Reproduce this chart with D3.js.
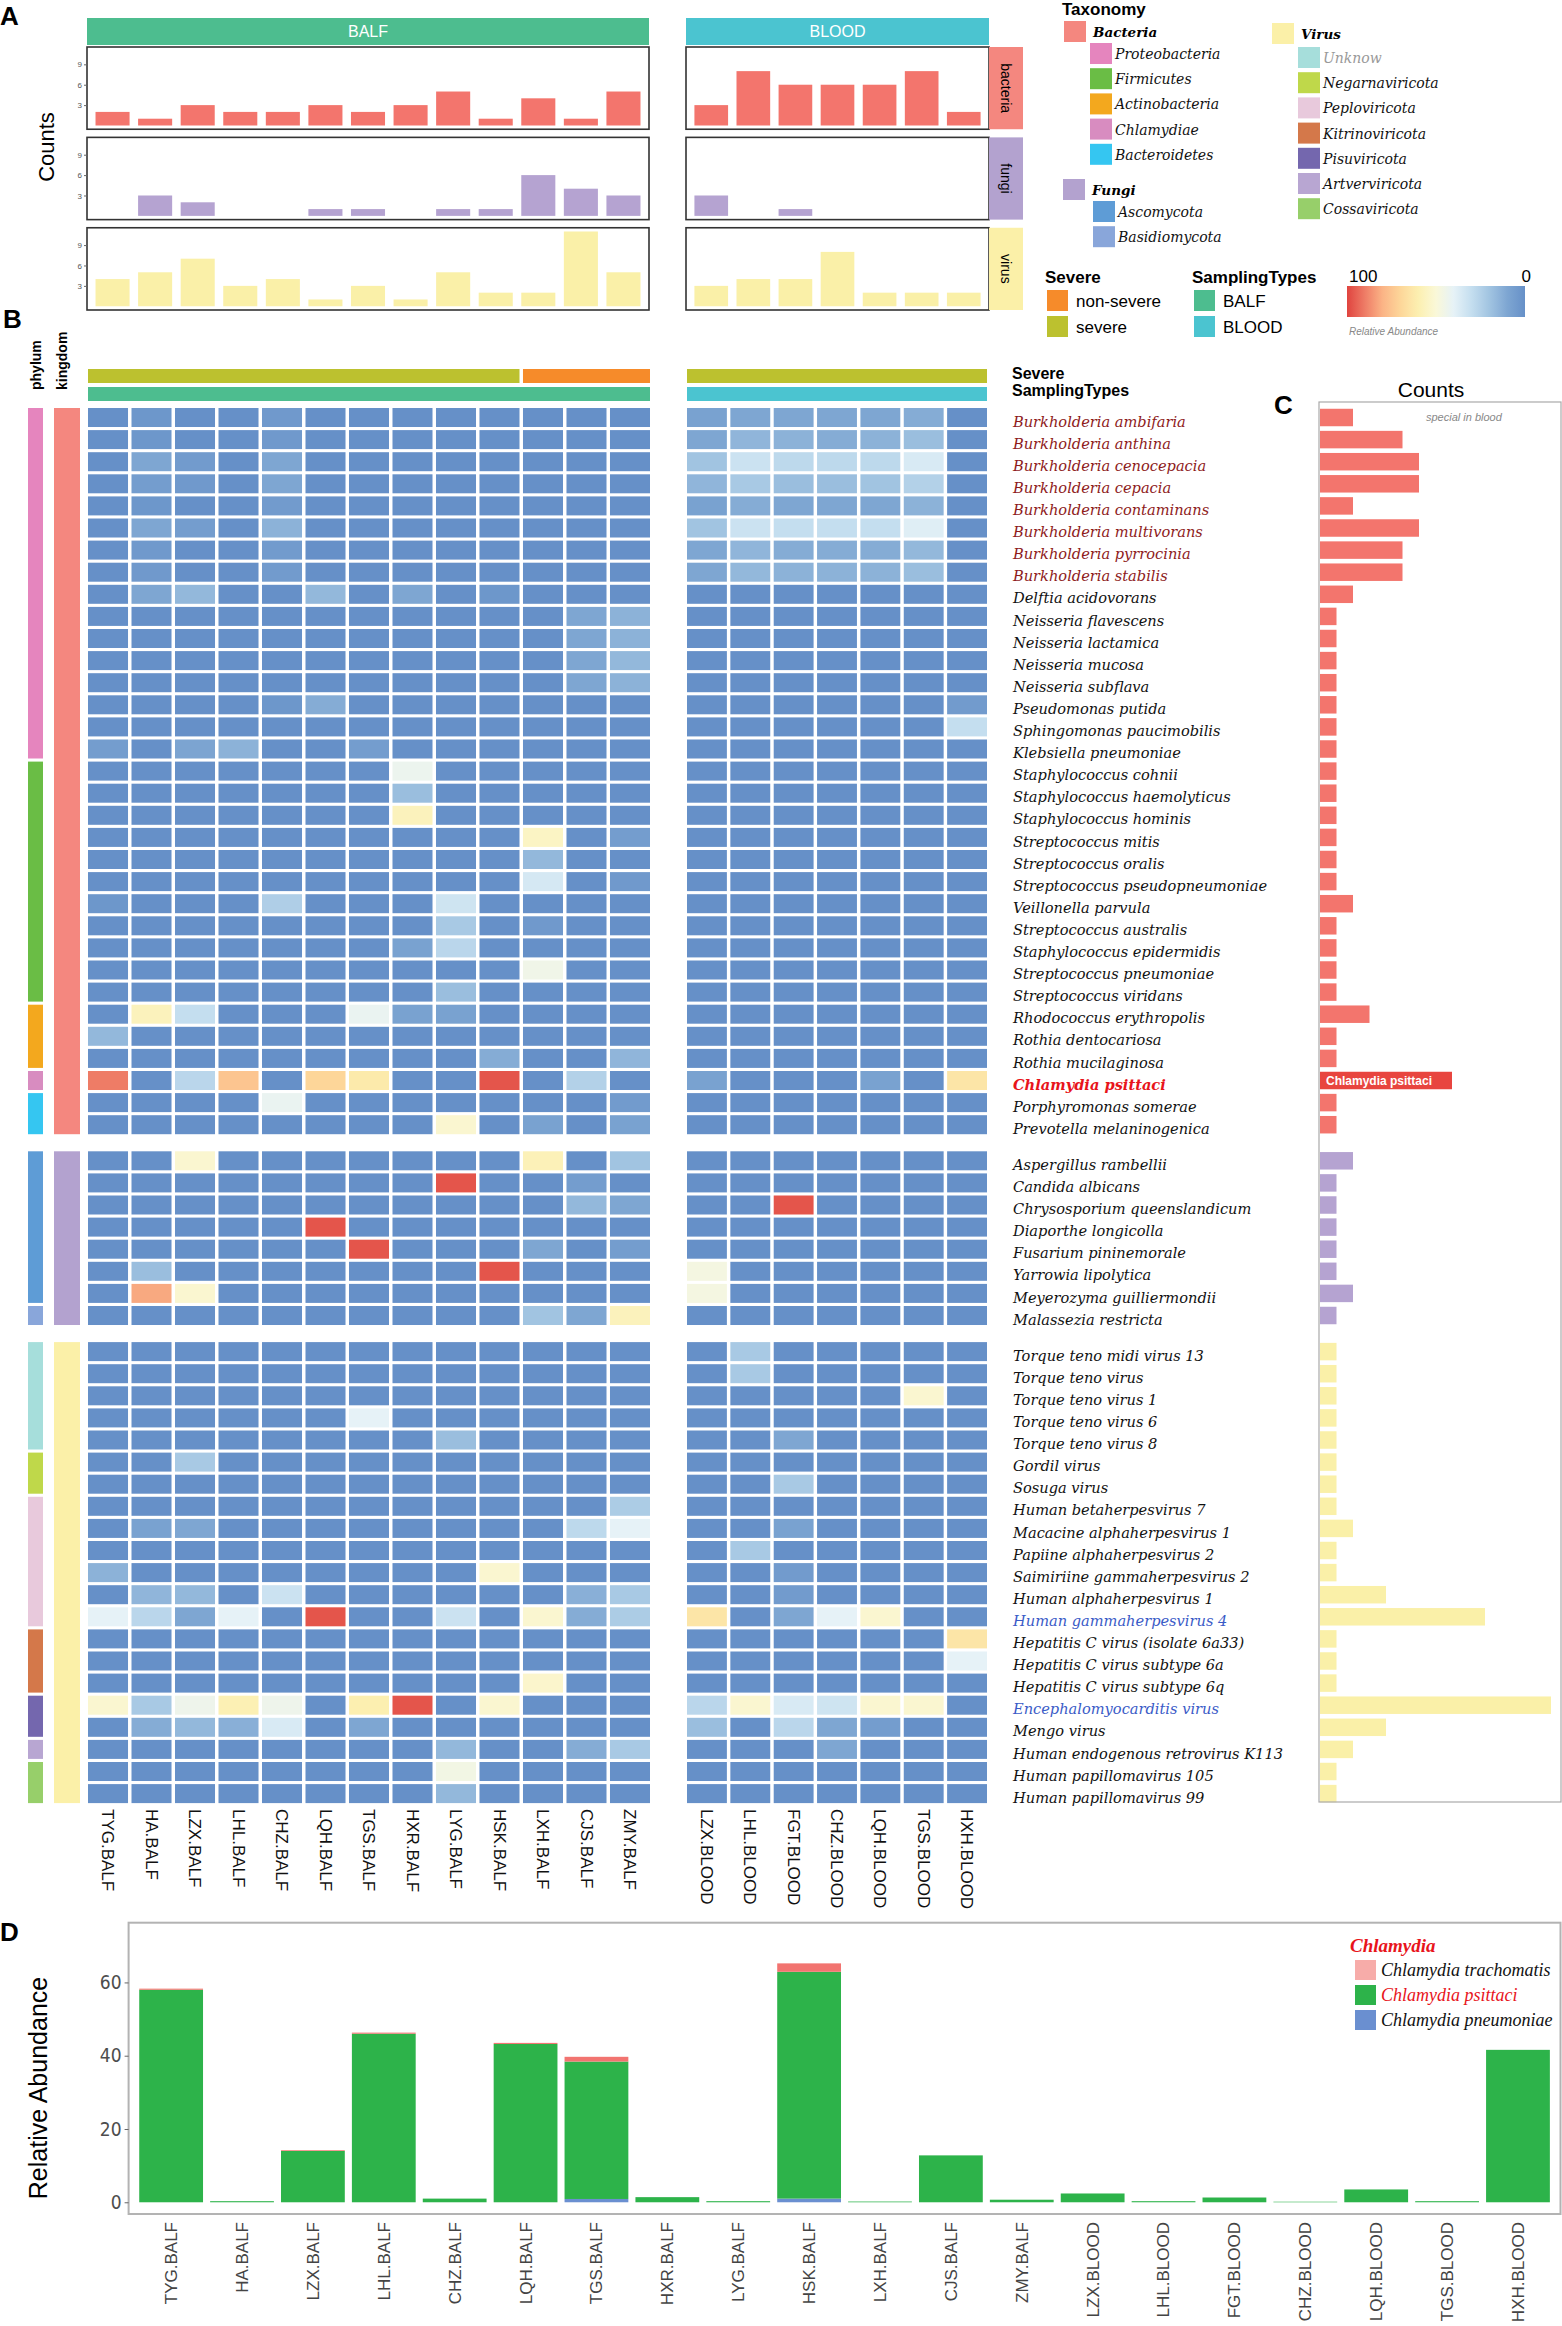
<!DOCTYPE html>
<html>
<head>
<meta charset="utf-8">
<script src="https://cdn.jsdelivr.net/npm/d3@7"></script>
<style>
  body { margin: 0; background: #fff; }
  svg text { font-family: "Liberation Sans", Arial, sans-serif; }
</style>
</head>
<body>
<div id="fig"></div>
<script>
// ---- samples ----
var balfSamples = ["TYG.BALF", "HA.BALF", "LZX.BALF", "LHL.BALF", "CHZ.BALF", "LQH.BALF", "TGS.BALF",
    "HXR.BALF", "LYG.BALF", "HSK.BALF", "LXH.BALF", "CJS.BALF", "ZMY.BALF"];
var bloodSamples = ["LZX.BLOOD", "LHL.BLOOD", "FGT.BLOOD", "CHZ.BLOOD", "LQH.BLOOD", "TGS.BLOOD", "HXH.BLOOD"];
var balfSevere = ["severe", "severe", "severe", "severe", "severe", "severe", "severe", "severe", "severe", "severe",
    "non-severe", "non-severe", "non-severe"];
var bloodSevere = ["severe", "severe", "severe", "severe", "severe", "severe", "severe"];

// ---- panel A: counts per sample ----
var kingdoms = ["bacteria", "fungi", "virus"];
var bacteriaCountsBALF = [2, 1, 3, 2, 2, 3, 2, 3, 5, 1, 4, 1, 5];
var bacteriaCountsBLOOD = [3, 8, 6, 6, 6, 8, 2];
var fungiCountsBALF = [0, 3, 2, 0, 0, 1, 1, 0, 1, 1, 6, 4, 3];
var fungiCountsBLOOD = [3, 0, 1, 0, 0, 0, 0];
var virusCountsBALF = [4, 5, 7, 3, 4, 1, 3, 1, 5, 2, 2, 11, 5];
var virusCountsBLOOD = [3, 4, 4, 8, 2, 2, 2];
var countTicks = [3, 6, 9];

// ---- panel B/C: species ----
var bacteriaSpecies = ["Burkholderia ambifaria", "Burkholderia anthina", "Burkholderia cenocepacia", "Burkholderia cepacia",
    "Burkholderia contaminans", "Burkholderia multivorans", "Burkholderia pyrrocinia", "Burkholderia stabilis",
    "Delftia acidovorans", "Neisseria flavescens", "Neisseria lactamica", "Neisseria mucosa", "Neisseria subflava",
    "Pseudomonas putida", "Sphingomonas paucimobilis", "Klebsiella pneumoniae", "Staphylococcus cohnii",
    "Staphylococcus haemolyticus", "Staphylococcus hominis", "Streptococcus mitis", "Streptococcus oralis",
    "Streptococcus pseudopneumoniae", "Veillonella parvula", "Streptococcus australis", "Staphylococcus epidermidis",
    "Streptococcus pneumoniae", "Streptococcus viridans", "Rhodococcus erythropolis", "Rothia dentocariosa",
    "Rothia mucilaginosa", "Chlamydia psittaci", "Porphyromonas somerae", "Prevotella melaninogenica"];
var bacteriaPhylum = ["Proteobacteria", "Proteobacteria", "Proteobacteria", "Proteobacteria", "Proteobacteria",
    "Proteobacteria", "Proteobacteria", "Proteobacteria", "Proteobacteria", "Proteobacteria", "Proteobacteria",
    "Proteobacteria", "Proteobacteria", "Proteobacteria", "Proteobacteria", "Proteobacteria",
    "Firmicutes", "Firmicutes", "Firmicutes", "Firmicutes", "Firmicutes", "Firmicutes", "Firmicutes", "Firmicutes",
    "Firmicutes", "Firmicutes", "Firmicutes", "Actinobacteria", "Actinobacteria", "Actinobacteria",
    "Chlamydiae", "Bacteroidetes", "Bacteroidetes"];
var bacteriaSpeciesCounts = [2, 5, 6, 6, 2, 6, 5, 5, 2, 1, 1, 1, 1, 1, 1, 1, 1, 1, 1, 1, 1, 1, 2, 1, 1, 1, 1, 3, 1, 1, 8, 1, 1];

var fungiSpecies = ["Aspergillus rambellii", "Candida albicans", "Chrysosporium queenslandicum", "Diaporthe longicolla",
    "Fusarium pininemorale", "Yarrowia lipolytica", "Meyerozyma guilliermondii", "Malassezia restricta"];
var fungiPhylum = ["Ascomycota", "Ascomycota", "Ascomycota", "Ascomycota", "Ascomycota", "Ascomycota", "Ascomycota",
    "Basidiomycota"];
var fungiSpeciesCounts = [2, 1, 1, 1, 1, 1, 2, 1];

var virusSpecies = ["Torque teno midi virus 13", "Torque teno virus", "Torque teno virus 1", "Torque teno virus 6",
    "Torque teno virus 8", "Gordil virus", "Sosuga virus", "Human betaherpesvirus 7", "Macacine alphaherpesvirus 1",
    "Papiine alphaherpesvirus 2", "Saimiriine gammaherpesvirus 2", "Human alphaherpesvirus 1",
    "Human gammaherpesvirus 4", "Hepatitis C virus (isolate 6a33)", "Hepatitis C virus subtype 6a",
    "Hepatitis C virus subtype 6q", "Encephalomyocarditis virus", "Mengo virus", "Human endogenous retrovirus K113",
    "Human papillomavirus 105", "Human papillomavirus 99"];
var virusPhylum = ["Unknow", "Unknow", "Unknow", "Unknow", "Unknow", "Negarnaviricota", "Negarnaviricota",
    "Peploviricota", "Peploviricota", "Peploviricota", "Peploviricota", "Peploviricota", "Peploviricota",
    "Kitrinoviricota", "Kitrinoviricota", "Kitrinoviricota", "Pisuviricota", "Pisuviricota", "Artverviricota",
    "Cossaviricota", "Cossaviricota"];
var virusSpeciesCounts = [1, 1, 1, 1, 1, 1, 1, 1, 2, 1, 1, 4, 10, 1, 1, 1, 14, 4, 2, 1, 1];

// relative abundance (0-100), 13 BALF columns then 7 BLOOD columns
var bacteriaAbund = [
    [0, 3, 0, 0, 4, 0, 0, 0, 0, 0, 0, 0, 0, 8, 10, 10, 10, 10, 12, 0],
    [0, 3, 0, 0, 4, 0, 0, 0, 0, 0, 0, 0, 0, 10, 15, 14, 12, 14, 18, 0],
    [0, 10, 5, 0, 10, 0, 0, 0, 0, 0, 0, 0, 0, 20, 32, 28, 28, 28, 36, 0],
    [0, 6, 4, 0, 10, 0, 0, 0, 0, 0, 0, 0, 0, 15, 22, 18, 18, 20, 25, 0],
    [0, 3, 0, 0, 5, 0, 0, 0, 0, 0, 0, 0, 0, 8, 12, 10, 10, 10, 14, 0],
    [0, 10, 6, 0, 14, 0, 0, 0, 0, 0, 0, 0, 0, 20, 32, 30, 30, 30, 38, 0],
    [0, 4, 0, 0, 5, 0, 0, 0, 0, 0, 0, 0, 0, 10, 15, 12, 12, 12, 16, 0],
    [0, 4, 0, 0, 5, 0, 0, 0, 0, 0, 0, 0, 0, 10, 16, 14, 14, 14, 18, 0],
    [0, 10, 16, 0, 0, 16, 0, 10, 0, 3, 0, 0, 0, 0, 0, 0, 0, 0, 0, 0],
    [0, 0, 0, 0, 0, 0, 0, 0, 0, 0, 0, 10, 14, 0, 0, 0, 0, 0, 0, 0],
    [0, 0, 0, 0, 0, 0, 0, 0, 0, 0, 0, 10, 14, 0, 0, 0, 0, 0, 0, 0],
    [0, 0, 0, 0, 0, 0, 0, 0, 0, 0, 0, 10, 16, 0, 0, 0, 0, 0, 0, 0],
    [0, 0, 0, 0, 0, 0, 0, 0, 0, 0, 0, 10, 14, 0, 0, 0, 0, 0, 0, 0],
    [0, 0, 0, 0, 3, 12, 0, 0, 0, 0, 0, 0, 0, 0, 0, 0, 0, 0, 0, 5],
    [0, 0, 0, 0, 0, 0, 0, 0, 0, 0, 0, 0, 0, 0, 0, 0, 0, 0, 0, 30],
    [6, 0, 9, 14, 0, 0, 6, 0, 0, 0, 0, 0, 0, 0, 0, 0, 0, 0, 0, 0],
    [0, 0, 0, 0, 0, 0, 0, 43, 0, 0, 0, 0, 0, 0, 0, 0, 0, 0, 0, 0],
    [0, 0, 0, 0, 0, 0, 0, 18, 0, 0, 0, 0, 0, 0, 0, 0, 0, 0, 0, 0],
    [0, 0, 0, 0, 0, 0, 0, 57, 0, 0, 0, 0, 0, 0, 0, 0, 0, 0, 0, 0],
    [0, 0, 0, 0, 0, 0, 0, 0, 0, 0, 55, 0, 6, 0, 0, 0, 0, 0, 0, 0],
    [0, 0, 0, 0, 0, 0, 0, 0, 0, 0, 16, 0, 0, 0, 0, 0, 0, 0, 0, 0],
    [0, 0, 0, 0, 0, 0, 0, 0, 0, 0, 35, 0, 4, 0, 0, 0, 0, 0, 0, 0],
    [3, 0, 0, 0, 24, 0, 0, 0, 33, 0, 0, 0, 0, 0, 0, 0, 0, 0, 0, 0],
    [0, 0, 0, 0, 0, 0, 0, 0, 22, 0, 4, 0, 0, 0, 0, 0, 0, 0, 0, 0],
    [0, 0, 0, 0, 0, 0, 0, 8, 27, 0, 0, 0, 0, 0, 0, 0, 0, 0, 0, 0],
    [0, 0, 0, 0, 0, 0, 0, 0, 0, 0, 45, 0, 0, 0, 0, 0, 0, 0, 0, 0],
    [0, 0, 0, 0, 0, 0, 0, 0, 18, 0, 0, 0, 0, 0, 0, 0, 0, 0, 0, 0],
    [0, 57, 30, 0, 0, 0, 42, 8, 8, 0, 0, 0, 0, 0, 0, 0, 0, 0, 0, 0],
    [16, 0, 0, 0, 0, 0, 0, 0, 0, 0, 0, 0, 0, 0, 0, 0, 0, 0, 0, 0],
    [0, 0, 0, 0, 0, 0, 0, 0, 0, 12, 0, 0, 15, 0, 0, 0, 0, 0, 0, 0],
    [90, 0, 27, 75, 0, 70, 62, 0, 0, 97, 0, 25, 0, 8, 0, 0, 0, 8, 0, 64],
    [0, 0, 0, 0, 42, 0, 0, 0, 0, 0, 0, 0, 5, 0, 0, 0, 0, 0, 0, 0],
    [0, 0, 0, 0, 0, 0, 0, 0, 52, 0, 8, 0, 8, 0, 0, 0, 0, 0, 0, 0]
];
var fungiAbund = [
    [0, 0, 52, 0, 0, 0, 0, 0, 0, 0, 58, 0, 20, 0, 0, 0, 0, 0, 0, 0],
    [0, 0, 0, 0, 0, 0, 0, 0, 97, 0, 0, 6, 0, 0, 0, 0, 0, 0, 0, 0],
    [0, 0, 0, 0, 0, 0, 0, 0, 0, 0, 0, 16, 10, 0, 0, 97, 0, 0, 0, 0],
    [0, 0, 0, 0, 0, 97, 0, 0, 0, 0, 0, 0, 0, 0, 0, 0, 0, 0, 0, 0],
    [0, 0, 0, 0, 0, 0, 97, 0, 0, 0, 10, 0, 6, 0, 0, 0, 0, 0, 0, 0],
    [0, 18, 0, 0, 0, 0, 0, 0, 0, 97, 0, 0, 0, 47, 0, 0, 0, 0, 0, 0],
    [0, 82, 52, 0, 0, 0, 0, 0, 0, 0, 0, 0, 0, 47, 0, 0, 0, 0, 0, 0],
    [0, 0, 0, 0, 0, 0, 0, 0, 0, 0, 20, 10, 57, 0, 0, 0, 0, 0, 0, 0]
];
var virusAbund = [
    [0, 0, 0, 0, 0, 0, 0, 0, 0, 0, 0, 0, 0, 0, 22, 0, 0, 0, 0, 0],
    [0, 0, 0, 0, 0, 0, 0, 0, 0, 0, 0, 0, 0, 0, 22, 0, 0, 0, 0, 0],
    [0, 0, 0, 0, 0, 0, 0, 0, 0, 0, 0, 0, 0, 0, 0, 0, 0, 0, 52, 0],
    [0, 0, 0, 0, 0, 0, 40, 0, 0, 0, 0, 0, 0, 0, 0, 0, 0, 0, 0, 0],
    [0, 0, 0, 0, 0, 0, 0, 0, 18, 0, 0, 0, 0, 0, 0, 10, 0, 0, 0, 0],
    [0, 0, 22, 0, 0, 0, 0, 0, 0, 0, 0, 0, 0, 0, 0, 0, 0, 0, 0, 0],
    [0, 0, 0, 0, 0, 0, 0, 0, 0, 0, 0, 0, 0, 0, 0, 22, 0, 0, 0, 0],
    [0, 0, 0, 0, 0, 0, 0, 0, 0, 0, 0, 0, 23, 0, 0, 0, 0, 0, 0, 0],
    [0, 8, 10, 0, 0, 0, 0, 0, 0, 0, 0, 28, 40, 0, 0, 8, 0, 0, 0, 0],
    [0, 0, 0, 0, 0, 0, 0, 0, 0, 0, 0, 0, 0, 0, 22, 0, 0, 0, 0, 0],
    [14, 0, 0, 0, 0, 0, 0, 0, 0, 52, 0, 0, 0, 0, 0, 5, 0, 0, 0, 0],
    [0, 15, 16, 0, 32, 0, 0, 0, 0, 0, 0, 13, 22, 0, 0, 5, 0, 0, 0, 0],
    [40, 27, 10, 40, 0, 97, 0, 0, 32, 0, 52, 12, 23, 64, 0, 10, 40, 52, 0, 0],
    [0, 0, 0, 0, 0, 0, 0, 0, 0, 0, 0, 0, 0, 0, 0, 0, 0, 0, 0, 64],
    [0, 0, 0, 0, 0, 0, 0, 0, 0, 0, 0, 0, 0, 0, 0, 0, 0, 0, 0, 40],
    [0, 0, 0, 0, 0, 0, 0, 0, 0, 0, 53, 0, 0, 0, 0, 0, 0, 0, 0, 0],
    [52, 22, 44, 59, 44, 0, 60, 97, 0, 52, 0, 0, 0, 27, 52, 36, 33, 52, 52, 0],
    [0, 12, 16, 13, 36, 0, 10, 0, 0, 0, 0, 0, 0, 18, 0, 27, 10, 6, 0, 0],
    [0, 0, 0, 0, 0, 0, 0, 0, 16, 0, 0, 12, 22, 0, 0, 0, 10, 0, 0, 0],
    [0, 0, 0, 0, 0, 0, 0, 0, 46, 0, 0, 0, 0, 0, 0, 0, 0, 0, 0, 0],
    [0, 0, 0, 0, 0, 0, 0, 0, 16, 0, 0, 0, 0, 0, 0, 0, 0, 0, 0, 0]
];
var redLabels = ["Chlamydia psittaci"];
var blueLabels = ["Human gammaherpesvirus 4", "Encephalomyocarditis virus"];

// ---- panel D ----
var dSamples = balfSamples.concat(bloodSamples);
var trachomatisAbund = [0.3, 0, 0.2, 0.3, 0, 0.3, 1.3, 0, 0, 2.3, 0, 0, 0, 0, 0, 0, 0, 0, 0, 0];
var psittaciAbund = [58, 0.3, 14, 46, 1.0, 43.2, 37.5, 1.4, 0.3, 61.9, 0.2, 12.8, 0.7, 2.4, 0.3, 1.3, 0.15, 3.5, 0.3, 41.6];
var pneumoniaeAbund = [0, 0, 0, 0, 0, 0, 0.9, 0, 0, 1.0, 0, 0, 0, 0, 0, 0, 0, 0, 0, 0];
var abundTicks = [0, 20, 40, 60];

// ---- colours ----
var kingdomColor = {bacteria: "#F4877F", fungi: "#B3A2CF", virus: "#FBF0A8"};
var kingdomBarColor = {bacteria: "#F3756D", fungi: "#B5A3D1", virus: "#FAF0A8"};
var phylumColor = {
    Proteobacteria: "#E585BE", Firmicutes: "#6ABD45", Actinobacteria: "#F3A81E", Chlamydiae: "#D88CC0",
    Bacteroidetes: "#35C6F1", Ascomycota: "#5E9CD6", Basidiomycota: "#89A6DA",
    Unknow: "#A6DEDB", Negarnaviricota: "#BFD84A", Peploviricota: "#E8C9DC", Kitrinoviricota: "#D4784A",
    Pisuviricota: "#7467AE", Artverviricota: "#B8A6D2", Cossaviricota: "#97CF6A"
};
var severeColor = {"non-severe": "#F68B2A", "severe": "#BCC12F"};
var samplingColor = {BALF: "#4DBD8F", BLOOD: "#4BC4D0"};
var chlamydiaColor = {trachomatis: "#F27470", psittaci: "#2DB34A", pneumoniae: "#6A8FD0"};

var heatColor = d3.scaleLinear()
    .domain([0, 10, 20, 30, 40, 50, 60, 70, 80, 90, 100])
    .range(["#6690C8", "#7EA6D2", "#A1C4E1", "#C4DEEF", "#E6F2F7", "#FAF8D8", "#FCEFB0", "#FDD699", "#FBB486", "#EE7C66", "#E0443F"]);

var SERIF = "'DejaVu Serif', serif",
    NARROW = "'Liberation Sans Narrow', 'DejaVu Sans Condensed', sans-serif",
    TIMES = "'Liberation Serif', serif";

var svg = d3.select("#fig").append("svg")
    .attr("width", 1562)
    .attr("height", 2326);

function panelLabel(t, x, y) {
    svg.append("text").attr("x", x).attr("y", y)
        .style("font-size", "26px").style("font-weight", "bold")
        .text(t);
}

/* ================= panel A ================= */
panelLabel("A", 0, 25);

var facetY = d3.scaleBand().domain(kingdoms).range([47, 310]).paddingInner(0.09);
var xBalfA = d3.scaleBand().domain(balfSamples).range([87, 649]).paddingInner(0.2).paddingOuter(0.2);
var xBloodA = d3.scaleBand().domain(bloodSamples).range([686, 989]).paddingInner(0.2).paddingOuter(0.2);
var countsA = {
    bacteria: [bacteriaCountsBALF, bacteriaCountsBLOOD],
    fungi: [fungiCountsBALF, fungiCountsBLOOD],
    virus: [virusCountsBALF, virusCountsBLOOD]
};

[["BALF", xBalfA], ["BLOOD", xBloodA]].forEach(function (s) {
    var r = s[1].range();
    svg.append("rect").attr("x", r[0]).attr("y", 18).attr("width", r[1] - r[0]).attr("height", 27)
        .attr("fill", samplingColor[s[0]]);
    svg.append("text").attr("x", (r[0] + r[1]) / 2).attr("y", 37)
        .attr("text-anchor", "middle").style("font-size", "16px").style("fill", "#fff")
        .text(s[0]);
});

kingdoms.forEach(function (k) {
    var top = facetY(k), bot = top + facetY.bandwidth();
    var y = d3.scaleLinear().domain([-0.55, 11.55]).range([bot, top]);

    [[xBalfA, balfSamples, countsA[k][0], true], [xBloodA, bloodSamples, countsA[k][1], false]].forEach(function (p) {
        var g = svg.append("g");
        g.selectAll("rect.bar").data(p[2]).enter().append("rect")
            .attr("class", "bar")
            .attr("x", function (d, i) { return p[0](p[1][i]); })
            .attr("width", p[0].bandwidth())
            .attr("y", function (d) { return y(d); })
            .attr("height", function (d) { return y(0) - y(d); })
            .attr("fill", kingdomBarColor[k]);
        var r = p[0].range();
        g.append("rect").attr("x", r[0]).attr("y", top).attr("width", r[1] - r[0]).attr("height", bot - top)
            .attr("fill", "none").attr("stroke", "#333").attr("stroke-width", 1.6);
        if (p[3]) {
            var ax = svg.append("g").attr("transform", "translate(" + r[0] + ",0)")
                .call(d3.axisLeft(y).tickValues(countTicks).tickSize(3).tickPadding(2));
            ax.select(".domain").remove();
            ax.selectAll("line").attr("stroke", "#666");
            ax.selectAll("text").style("font-size", "8px").style("fill", "#555")
                .style("font-family", "'Liberation Sans', Arial, sans-serif");
        }
    });

    // facet strip
    svg.append("rect").attr("x", 989).attr("y", top).attr("width", 34).attr("height", bot - top)
        .attr("fill", kingdomColor[k]);
    svg.append("text").attr("transform", "translate(1006," + ((top + bot) / 2) + ") rotate(90)")
        .attr("text-anchor", "middle").attr("dy", "0.35em").style("font-size", "14px")
        .text(k);
});

svg.append("text").attr("transform", "translate(46,147) rotate(-90)")
    .attr("text-anchor", "middle").attr("dy", "0.35em").style("font-size", "22px")
    .text("Counts");

/* ================= legends (top right) ================= */
var leg = svg.append("g");
leg.append("text").attr("x", 1062).attr("y", 15).style("font-size", "17px").style("font-weight", "bold").text("Taxonomy");

function legendKingdom(name, x, y) {
    leg.append("rect").attr("x", x).attr("y", y).attr("width", 22).attr("height", 21).attr("fill", kingdomColor[name.toLowerCase()]);
    leg.append("text").attr("x", x + 29).attr("y", y + 16)
        .style("font-family", SERIF).style("font-style", "italic").style("font-weight", "bold").style("font-size", "13.5px")
        .text(name);
}
function legendPhyla(list, x, y0) {
    list.forEach(function (p, i) {
        var y = y0 + i * 25.2;
        leg.append("rect").attr("x", x).attr("y", y).attr("width", 22).attr("height", 21).attr("fill", phylumColor[p]);
        leg.append("text").attr("x", x + 25).attr("y", y + 16)
            .style("font-family", SERIF).style("font-style", "italic").style("font-size", "14px")
            .style("fill", p === "Unknow" ? "#999" : "#111")
            .text(p);
    });
}
function uniq(a) { return a.filter(function (d, i) { return a.indexOf(d) === i; }); }

legendKingdom("Bacteria", 1064, 21);
legendPhyla(uniq(bacteriaPhylum), 1090, 43);
legendKingdom("Fungi", 1063, 179);
legendPhyla(uniq(fungiPhylum), 1093, 201);
legendKingdom("Virus", 1272, 23);
legendPhyla(uniq(virusPhylum), 1298, 47);

function legendDiscrete(title, keys, colors, x, y) {
    leg.append("text").attr("x", x).attr("y", y).style("font-size", "17px").style("font-weight", "bold").text(title);
    keys.forEach(function (k, i) {
        leg.append("rect").attr("x", x + 2).attr("y", y + 7 + i * 26).attr("width", 21).attr("height", 21).attr("fill", colors[k]);
        leg.append("text").attr("x", x + 31).attr("y", y + 24 + i * 26).style("font-size", "17px").text(k);
    });
}
legendDiscrete("Severe", ["non-severe", "severe"], severeColor, 1045, 283);
legendDiscrete("SamplingTypes", ["BALF", "BLOOD"], samplingColor, 1192, 283);

var grad = svg.append("defs").append("linearGradient").attr("id", "heatGrad");
d3.range(0, 101, 5).forEach(function (t) {
    grad.append("stop").attr("offset", t + "%").attr("stop-color", heatColor(100 - t));
});
leg.append("rect").attr("x", 1347).attr("y", 286).attr("width", 178).attr("height", 31).attr("fill", "url(#heatGrad)");
leg.append("text").attr("x", 1349).attr("y", 282).style("font-size", "17px").text("100");
leg.append("text").attr("x", 1531).attr("y", 282).attr("text-anchor", "end").style("font-size", "17px").text("0");
leg.append("text").attr("x", 1349).attr("y", 335).style("font-size", "10px").style("font-style", "italic")
    .style("fill", "#888").text("Relative Abundance");

/* ================= panel B: heatmap ================= */
panelLabel("B", 3, 328);

var groups = [
    {name: "bacteria", species: bacteriaSpecies, phylum: bacteriaPhylum, abund: bacteriaAbund, counts: bacteriaSpeciesCounts},
    {name: "fungi", species: fungiSpecies, phylum: fungiPhylum, abund: fungiAbund, counts: fungiSpeciesCounts},
    {name: "virus", species: virusSpecies, phylum: virusPhylum, abund: virusAbund, counts: virusSpeciesCounts}
];
var rowStep = 22.1, rowGap = 14, yStart = 408;
groups.forEach(function (g) {
    g.y = d3.scaleBand().domain(g.species)
        .range([yStart, yStart + rowStep * (g.species.length - 0.14)]).paddingInner(0.14);
    yStart += rowStep * g.species.length + rowGap;
});

var xBalfH = d3.scaleBand().domain(balfSamples).range([88, 650]).paddingInner(0.08);
var xBloodH = d3.scaleBand().domain(bloodSamples).range([687, 987]).paddingInner(0.08);
function colX(i) { return i < 13 ? xBalfH(balfSamples[i]) : xBloodH(bloodSamples[i - 13]); }

// column annotations
function runs(arr) {
    var out = [];
    arr.forEach(function (v, i) {
        if (out.length && out[out.length - 1].v === v) out[out.length - 1].end = i;
        else out.push({v: v, start: i, end: i});
    });
    return out;
}
[[xBalfH, balfSamples, balfSevere, "BALF"], [xBloodH, bloodSamples, bloodSevere, "BLOOD"]].forEach(function (p) {
    var sc = p[0], bw = sc.bandwidth();
    runs(p[2]).forEach(function (r) {
        svg.append("rect").attr("x", sc(p[1][r.start])).attr("y", 369)
            .attr("width", sc(p[1][r.end]) + bw - sc(p[1][r.start])).attr("height", 14)
            .attr("fill", severeColor[r.v]);
    });
    svg.append("rect").attr("x", sc(p[1][0])).attr("y", 387)
        .attr("width", sc(p[1][p[1].length - 1]) + bw - sc(p[1][0])).attr("height", 14)
        .attr("fill", samplingColor[p[3]]);
});
svg.append("text").attr("x", 1012).attr("y", 379).style("font-size", "16px").style("font-weight", "bold").text("Severe");
svg.append("text").attr("x", 1012).attr("y", 396).style("font-size", "16px").style("font-weight", "bold").text("SamplingTypes");

svg.append("text").attr("transform", "translate(36,390) rotate(-90)").attr("dy", "0.35em")
    .style("font-size", "14px").style("font-weight", "bold").text("phylum");
svg.append("text").attr("transform", "translate(62,390) rotate(-90)").attr("dy", "0.35em")
    .style("font-size", "14px").style("font-weight", "bold").text("kingdom");

var xC = d3.scaleLinear().domain([0, 14]).range([1320, 1551]);

groups.forEach(function (g) {
    var bw = g.y.bandwidth();
    var gg = svg.append("g").attr("class", "heat " + g.name);

    // cells
    g.abund.forEach(function (row, r) {
        gg.selectAll("rect.c" + r).data(row).enter().append("rect")
            .attr("class", "c" + r)
            .attr("x", function (d, i) { return colX(i); })
            .attr("y", g.y(g.species[r]))
            .attr("width", function (d, i) { return i < 13 ? xBalfH.bandwidth() : xBloodH.bandwidth(); })
            .attr("height", bw)
            .attr("fill", function (d) { return heatColor(d); });
    });

    // kingdom bar
    var first = g.y(g.species[0]), last = g.y(g.species[g.species.length - 1]) + bw;
    gg.append("rect").attr("x", 54).attr("y", first).attr("width", 26).attr("height", last - first)
        .attr("fill", kingdomColor[g.name]);
    // phylum bars
    runs(g.phylum).forEach(function (r) {
        var y0 = g.y(g.species[r.start]), y1 = g.y(g.species[r.end]) + bw;
        gg.append("rect").attr("x", 28).attr("y", y0).attr("width", 15).attr("height", y1 - y0)
            .attr("fill", phylumColor[r.v]);
    });

    // row labels
    gg.selectAll("text.lab").data(g.species).enter().append("text")
        .attr("class", "lab")
        .attr("x", 1013)
        .attr("y", function (d) { return g.y(d) + bw / 2 + 4; })
        .attr("dy", "0.35em")
        .style("font-family", SERIF).style("font-style", "italic").style("font-size", "14.6px")
        .style("font-weight", function (d) { return redLabels.indexOf(d) >= 0 ? "bold" : "normal"; })
        .style("fill", function (d) {
            if (redLabels.indexOf(d) >= 0) return "#E8141B";
            if (blueLabels.indexOf(d) >= 0) return "#3A5BC7";
            if (d.indexOf("Burkholderia") === 0) return "#8E1B1B";
            return "#111";
        })
        .text(function (d) { return d; });

    // panel C bars
    var barH = bw * 0.92;
    gg.selectAll("rect.cnt").data(g.counts).enter().append("rect")
        .attr("class", "cnt")
        .attr("x", xC(0))
        .attr("y", function (d, i) { return g.y(g.species[i]) + (bw - barH) / 2; })
        .attr("width", function (d) { return xC(d) - xC(0); })
        .attr("height", barH)
        .attr("fill", function (d, i) {
            return redLabels.indexOf(g.species[i]) >= 0 ? "#E8453F" : kingdomBarColor[g.name];
        });
    g.species.forEach(function (s, i) {
        if (redLabels.indexOf(s) >= 0) {
            gg.append("text").attr("x", xC(0) + 6).attr("y", g.y(s) + bw / 2).attr("dy", "0.35em")
                .style("font-size", "12px").style("font-weight", "bold").style("fill", "#fff").text(s);
        }
    });
});

// column labels
dSamples.forEach(function (s, i) {
    var cx = colX(i) + (i < 13 ? xBalfH.bandwidth() : xBloodH.bandwidth()) / 2;
    svg.append("text").attr("transform", "translate(" + cx + ",1809) rotate(90)")
        .attr("dy", "0.35em").style("font-size", "17px").style("fill", "#111").text(s);
});

/* ================= panel C frame ================= */
panelLabel("C", 1274, 414);
svg.append("text").attr("x", 1431).attr("y", 397).attr("text-anchor", "middle").style("font-size", "21px").text("Counts");
svg.append("rect").attr("x", 1319).attr("y", 402).attr("width", 242).attr("height", 1400)
    .attr("fill", "none").attr("stroke", "#aaa").attr("stroke-width", 1.2);
svg.append("text").attr("x", 1426).attr("y", 421).style("font-size", "11px").style("font-style", "italic")
    .style("fill", "#888").text("special in blood");

/* ================= panel D ================= */
panelLabel("D", 0, 1941);

var xD = d3.scaleBand().domain(dSamples).range([128.6, 1560.5]).paddingInner(0.1).paddingOuter(0.15);
var yD = d3.scaleLinear().domain([-3.2, 76.3]).range([2214, 1922.7]);
var chlamKeys = ["pneumoniae", "psittaci", "trachomatis"];
var dRows = dSamples.map(function (s, i) {
    return {sample: s, pneumoniae: pneumoniaeAbund[i], psittaci: psittaciAbund[i], trachomatis: trachomatisAbund[i]};
});
var stacked = d3.stack().keys(chlamKeys)(dRows);

svg.append("g").selectAll("g").data(stacked).enter().append("g")
    .attr("fill", function (d) { return chlamydiaColor[d.key]; })
    .selectAll("rect").data(function (d) { return d; }).enter().append("rect")
    .attr("x", function (d) { return xD(d.data.sample); })
    .attr("width", xD.bandwidth())
    .attr("y", function (d) { return yD(d[1]); })
    .attr("height", function (d) { return yD(d[0]) - yD(d[1]); });

svg.append("rect").attr("x", 128.6).attr("y", 1922.7).attr("width", 1560.5 - 128.6).attr("height", 2214 - 1922.7)
    .attr("fill", "none").attr("stroke", "#b3b3b3").attr("stroke-width", 2);

var yAxD = svg.append("g").attr("transform", "translate(128.6,0)")
    .call(d3.axisLeft(yD).tickValues(abundTicks).tickSize(4).tickPadding(3));
yAxD.select(".domain").remove();
yAxD.selectAll("line").attr("stroke", "#666");
yAxD.selectAll("text").style("font-family", NARROW).style("font-size", "19px").style("fill", "#4d4d4d");

dSamples.forEach(function (s) {
    svg.append("text").attr("transform", "translate(" + (xD(s) + xD.bandwidth() / 2) + ",2222) rotate(-90)")
        .attr("text-anchor", "end").attr("dy", "0.35em").style("font-size", "17px").style("fill", "#444").text(s);
});

svg.append("text").attr("transform", "translate(38,2088) rotate(-90)")
    .attr("text-anchor", "middle").attr("dy", "0.35em").style("font-size", "25px").text("Relative Abundance");

var dLeg = svg.append("g");
dLeg.append("text").attr("x", 1350).attr("y", 1952)
    .style("font-family", TIMES).style("font-style", "italic").style("font-weight", "bold").style("font-size", "19px")
    .style("fill", "#E8141B").text("Chlamydia");
["trachomatis", "psittaci", "pneumoniae"].forEach(function (k, i) {
    var y = 1960 + i * 25;
    dLeg.append("rect").attr("x", 1355).attr("y", y).attr("width", 21).attr("height", 20)
        .attr("fill", chlamydiaColor[k]).attr("fill-opacity", k === "trachomatis" ? 0.6 : 1);
    dLeg.append("text").attr("x", 1381).attr("y", y + 16)
        .style("font-family", TIMES).style("font-style", "italic").style("font-size", "18px")
        .style("fill", k === "psittaci" ? "#E8141B" : "#111")
        .text("Chlamydia " + k);
});
</script>
</body>
</html>
